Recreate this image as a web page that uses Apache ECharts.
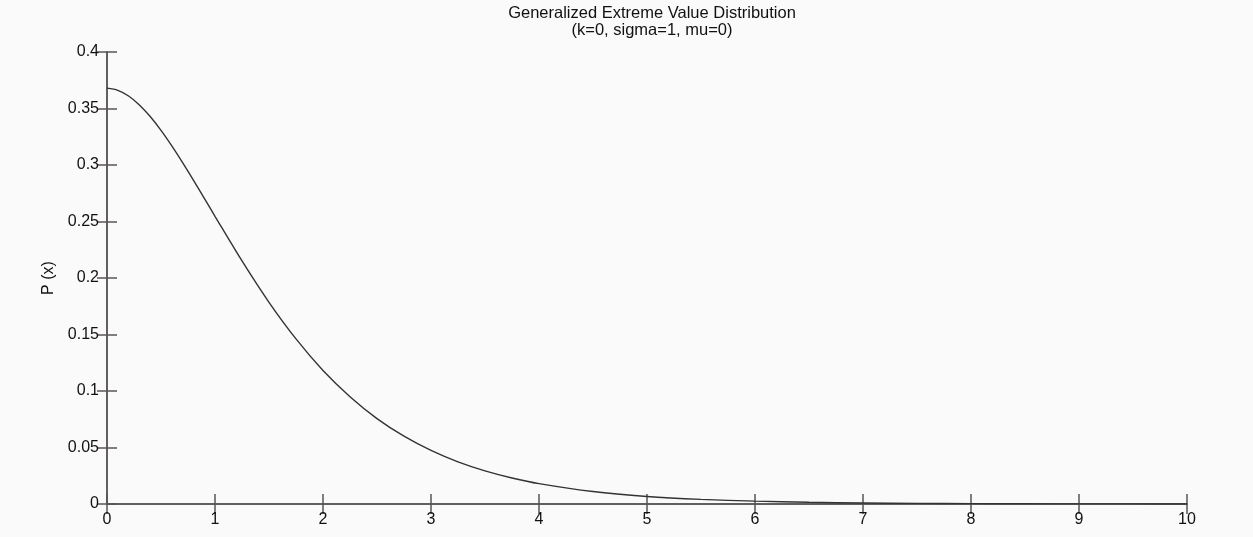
<!DOCTYPE html>
<html>
<head>
<meta charset="utf-8">
<script src="https://cdn.jsdelivr.net/npm/echarts@6/dist/echarts.min.js"></script>
<style>
html,body{margin:0;padding:0;background:#fafafa;}
#c{width:1253px;height:537px;}
</style>
</head>
<body>
<div id="c"></div>
<script>
var titleLines = ['Generalized Extreme Value Distribution', '(k=0, sigma=1, mu=0)'];
var yAxisName = 'P (x)';
var xValues = [0, 0.1, 0.2, 0.3, 0.4, 0.5, 0.6, 0.7, 0.8, 0.9, 1, 1.25, 1.5, 1.75, 2, 2.25, 2.5, 2.75, 3, 3.25, 3.5, 3.75, 4, 4.5, 5, 5.5, 6, 6.5, 7, 7.5, 8, 8.5, 9, 9.5, 10];
var pValues = [0.368, 0.3661, 0.3611, 0.3532, 0.3429, 0.3307, 0.3170, 0.3022, 0.2867, 0.2707, 0.2546, 0.2151, 0.1785, 0.1461, 0.1182, 0.0950, 0.0756, 0.0600, 0.0474, 0.0373, 0.0293, 0.0230, 0.0180, 0.0110, 0.0067, 0.0041, 0.0025, 0.0015, 0.0009, 0.00055, 0.00034, 0.0002, 0.00012, 0.00008, 0.00005];
var xTicks = [0, 1, 2, 3, 4, 5, 6, 7, 8, 9, 10];
var yTicks = [0, 0.05, 0.1, 0.15, 0.2, 0.25, 0.3, 0.35, 0.4];

var data = xValues.map(function (x, i) { return [x, pValues[i]]; });
var axisCol = '#5a5555';
var font = 'Liberation Sans, Arial, sans-serif';

var chart = echarts.init(document.getElementById('c'));
chart.setOption({
  backgroundColor: '#fafafa',
  animation: false,
  title: {
    text: titleLines.join('\n'),
    left: 647, top: 0, textAlign: 'center',
    textStyle: { fontFamily: font, fontSize: 16.5, fontWeight: 'normal', color: '#111', lineHeight: 17 }
  },
  grid: { left: 107, top: 52, right: 66, bottom: 33 },
  xAxis: [{
    type: 'value', min: 0, max: 10, interval: 1,
    axisLine: { lineStyle: { color: axisCol, width: 1.5 } },
    axisTick: { inside: true, length: 10, lineStyle: { color: axisCol, width: 1.5 } },
    axisLabel: { fontFamily: font, fontSize: 16, color: '#111', margin: 8,
      formatter: function (v) { return xTicks.indexOf(v) >= 0 ? String(v) : ''; } },
    splitLine: { show: false }
  }, {
    type: 'value', min: 0, max: 10, interval: 1, position: 'top',
    axisLine: { lineStyle: { color: axisCol, width: 1.5 } },
    axisTick: { inside: true, length: 10, lineStyle: { color: axisCol, width: 1.5 } },
    axisLabel: { show: false }, splitLine: { show: false }
  }],
  yAxis: [{
    type: 'value', min: 0, max: 0.4, interval: 0.05,
    name: yAxisName, nameLocation: 'middle', nameGap: 45, nameRotate: 90,
    nameTextStyle: { fontFamily: font, fontSize: 16, color: '#111' },
    axisLine: { show: true, lineStyle: { color: axisCol, width: 1.5 } },
    axisTick: { show: true, inside: true, length: 10, lineStyle: { color: axisCol, width: 1.5 } },
    axisLabel: { fontFamily: font, fontSize: 16, color: '#111', margin: 8,
      formatter: function (v) { return String(Math.round(v * 100) / 100); } },
    splitLine: { show: false }
  }, {
    type: 'value', min: 0, max: 0.4, interval: 0.05, position: 'right',
    axisLine: { show: true, lineStyle: { color: axisCol, width: 1.5 } },
    axisTick: { show: true, inside: true, length: 10, lineStyle: { color: axisCol, width: 1.5 } },
    axisLabel: { show: false }, splitLine: { show: false }
  }],
  series: [{
    type: 'line', data: data, showSymbol: false, smooth: 0.3,
    lineStyle: { color: '#333', width: 1.4 }, silent: true
  }]
});
</script>
</body>
</html>
